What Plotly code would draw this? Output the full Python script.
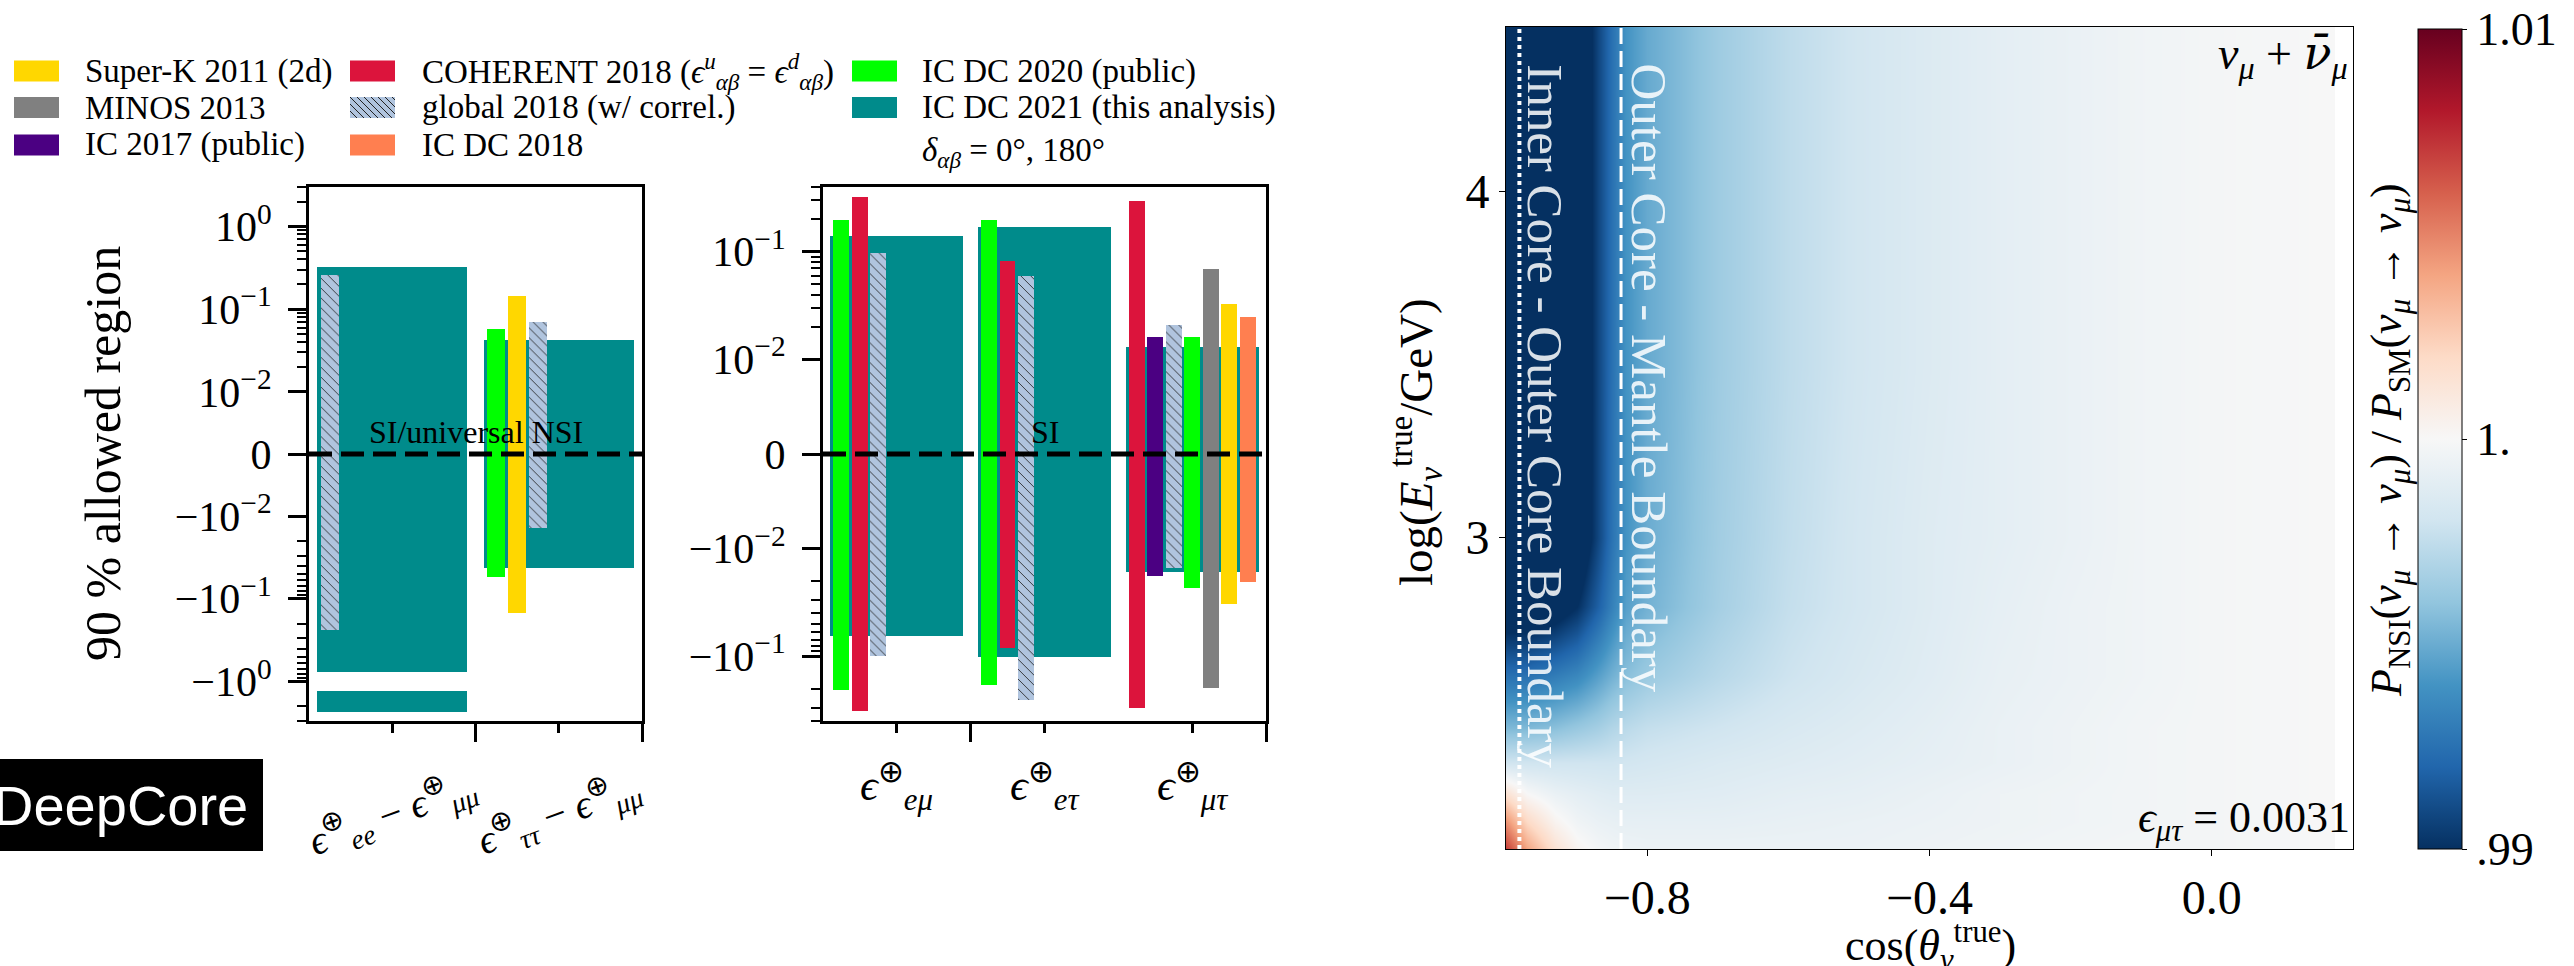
import numpy as np
import plotly.graph_objects as go

W, H = 2574, 966
def PX(px): return px / W
def PY(py): return 1 - py / H

# ---------------- data ----------------
cats_diag = ["ee-mumu", "tautau-mumu"]
cats_off = ["emu", "etau", "mutau"]

# panel 1 (diagonal), intervals (category index, lo, hi)
icdc2021_diag = [(0, -0.76, 0.32), (0, -2.32, -1.29), (1, -0.042, 0.042)]
global_diag = [(0, -0.24, 0.257), (1, -0.014, 0.071)]
icdc2020_diag = [(1, -0.055, 0.057)]
superk_diag = [(1, -0.15, 0.146)]

# panel 2 (off-diagonal)
icdc2021_off = [(0, -0.065, 0.141), (1, -0.102, 0.17), (2, -0.0166, 0.0129)]
icdc2020_off = [(0, -0.206, 0.198), (1, -0.185, 0.198), (2, -0.0234, 0.016)]
coherent_off = [(0, -0.323, 0.323), (1, -0.084, 0.082), (2, -0.30, 0.295)]
global_off = [(0, -0.10, 0.098), (1, -0.255, 0.06), (2, -0.015, 0.021)]
ic2017_off = [(2, -0.018, 0.0163)]
minos_off = [(2, -0.198, 0.0695)]
superk_off = [(2, -0.033, 0.033)]
icdc2018_off = [(2, -0.0202, 0.0245)]

# heatmap: read-off grid of P_NSI/P_SM
cos_grid = [-1.0, -0.97, -0.93, -0.9, -0.87, -0.85, -0.83, -0.8, -0.7, -0.6,
            -0.5, -0.4, -0.3, -0.2, -0.1, 0.0, 0.1, 0.15]
loge_grid = [2.1, 2.18, 2.26, 2.35, 2.45, 2.6, 2.8, 3.0, 3.5, 4.0, 4.48]
ratio = [
    [1.007, 1.004, 1.0015, 1.0003, 0.9998, 0.9996, 0.9995, 0.9994, 0.9994, 0.9994, 0.9994, 0.9995, 0.9996, 0.9997, 0.9998, 0.9998, 0.9999, 1.0],
    [1.0045, 1.002, 1.0003, 0.9996, 0.9993, 0.9992, 0.9991, 0.9991, 0.9991, 0.9992, 0.9993, 0.9994, 0.9995, 0.9996, 0.9997, 0.9998, 0.9999, 1.0],
    [1.0015, 1.0, 0.9993, 0.999, 0.9988, 0.9987, 0.9987, 0.9987, 0.9988, 0.999, 0.9991, 0.9993, 0.9995, 0.9996, 0.9997, 0.9998, 0.9999, 1.0],
    [0.998, 0.998, 0.998, 0.998, 0.998, 0.998, 0.9981, 0.9982, 0.9985, 0.9987, 0.9989, 0.9991, 0.9993, 0.9995, 0.9997, 0.9998, 0.9999, 1.0],
    [0.9955, 0.9955, 0.9958, 0.9962, 0.9966, 0.997, 0.9973, 0.9976, 0.998, 0.9984, 0.9987, 0.999, 0.9993, 0.9995, 0.9997, 0.9998, 0.9999, 1.0],
    [0.9925, 0.9925, 0.993, 0.9935, 0.9945, 0.9952, 0.9958, 0.9963, 0.9972, 0.9979, 0.9984, 0.9988, 0.9992, 0.9994, 0.9996, 0.9998, 0.9999, 1.0],
    [0.9885, 0.9885, 0.989, 0.99, 0.9918, 0.9932, 0.9945, 0.9952, 0.9966, 0.9976, 0.9982, 0.9987, 0.9991, 0.9994, 0.9996, 0.9998, 0.9999, 1.0],
    [0.986, 0.986, 0.9865, 0.9882, 0.9908, 0.9926, 0.994, 0.995, 0.9965, 0.9975, 0.9982, 0.9987, 0.999, 0.9993, 0.9996, 0.9998, 0.9999, 1.0],
    [0.985, 0.985, 0.986, 0.988, 0.9908, 0.9925, 0.994, 0.9949, 0.9964, 0.9974, 0.9981, 0.9986, 0.999, 0.9993, 0.9996, 0.9998, 0.9999, 1.0],
    [0.985, 0.985, 0.986, 0.988, 0.9908, 0.9925, 0.994, 0.9949, 0.9964, 0.9974, 0.9981, 0.9986, 0.999, 0.9993, 0.9996, 0.9998, 0.9999, 1.0],
    [0.985, 0.985, 0.986, 0.988, 0.9908, 0.9925, 0.994, 0.9949, 0.9964, 0.9974, 0.9981, 0.9986, 0.999, 0.9993, 0.9996, 0.9998, 0.9999, 1.0],
]
inner_core_cos = -0.981
outer_core_cos = -0.837
eps_mutau = 0.0031

COL = {
    "Super-K": "#FFD700", "MINOS": "#808080", "IC 2017": "#4B0082",
    "COHERENT": "#DC143C", "global": "#B0C4DE", "IC DC 2018": "#FF7F50",
    "IC DC 2020": "#00FF00", "IC DC 2021": "#008B8B",
}
RDBU_R = ["#053061", "#2166ac", "#4393c3", "#92c5de", "#d1e5f0", "#f7f7f7",
          "#fddbc7", "#f4a582", "#d6604d", "#b2182b", "#67001f"]

SERIF = "Liberation Serif"

# symlog transforms (decade units, linthresh 0.01)
A1, A2 = 0.75, 0.88
def symlog(v, a):
    v = np.asarray(v, dtype=float)
    out = np.where(np.abs(v) <= 0.01, v / 0.01 * a,
                   np.sign(v) * (a + np.log10(np.maximum(np.abs(v), 1e-12) / 0.01)))
    return out

BW = 0.108
STEP = 0.1255
def slot_center(cat, slot):
    return cat + 0.07 + BW / 2 + slot * STEP

fig = go.Figure()

def add_bars(items, a, xa, ya, color, wide=False, slots=None, hatch=False):
    xs, bases, hs, ws = [], [], [], []
    for k, (cat, lo, hi) in enumerate(items):
        t_lo, t_hi = float(symlog(lo, a)), float(symlog(hi, a))
        if wide:
            xs.append(cat + 0.5); ws.append(0.9)
        else:
            xs.append(slot_center(cat, slots[k])); ws.append(BW)
        bases.append(t_lo); hs.append(t_hi - t_lo)
    marker = dict(color=color, line=dict(width=0))
    if hatch:
        marker["pattern"] = dict(shape="\\", fgcolor="#222222", bgcolor=color,
                                 size=7, solidity=0.12, fillmode="replace")
    fig.add_trace(go.Bar(x=xs, y=hs, base=bases, width=ws, marker=marker,
                         xaxis=xa, yaxis=ya, showlegend=False, hoverinfo="skip"))

# panel 1
add_bars(icdc2021_diag, A1, "x", "y", COL["IC DC 2021"], wide=True)
add_bars(global_diag, A1, "x", "y", COL["global"], slots=[0, 2], hatch=True)
add_bars(icdc2020_diag, A1, "x", "y", COL["IC DC 2020"], slots=[0])
add_bars(superk_diag, A1, "x", "y", COL["Super-K"], slots=[1])
# panel 2
add_bars(icdc2021_off, A2, "x2", "y2", COL["IC DC 2021"], wide=True)
add_bars(icdc2020_off, A2, "x2", "y2", COL["IC DC 2020"], slots=[0, 0, 3])
add_bars(coherent_off, A2, "x2", "y2", COL["COHERENT"], slots=[1, 1, 0])
add_bars(global_off, A2, "x2", "y2", COL["global"], slots=[2, 2, 2], hatch=True)
add_bars(ic2017_off, A2, "x2", "y2", COL["IC 2017"], slots=[1])
add_bars(minos_off, A2, "x2", "y2", COL["MINOS"], slots=[4])
add_bars(superk_off, A2, "x2", "y2", COL["Super-K"], slots=[5])
add_bars(icdc2018_off, A2, "x2", "y2", COL["IC DC 2018"], slots=[6])

# heatmap
cscale = [[i / 10, c] for i, c in enumerate(RDBU_R)]
fig.add_trace(go.Heatmap(
    x=cos_grid, y=loge_grid, z=ratio, colorscale=cscale, zmin=0.99, zmax=1.01,
    zsmooth="best", xaxis="x3", yaxis="y3", hoverinfo="skip",
    colorbar=dict(x=PX(2418), xanchor="left", y=PY(439), yanchor="middle",
                  len=820 / H, lenmode="fraction", thickness=44, thicknessmode="pixels",
                  xpad=0, ypad=0, outlinewidth=1, outlinecolor="black",
                  tickvals=[0.99, 1.0, 1.01], ticktext=[".99", "1.", "1.01"],
                  ticks="outside", ticklen=5, tickwidth=1, tickcolor="black",
                  tickfont=dict(family=SERIF, size=46, color="black")),
))

# ---------------- axes ----------------
def major_minor(vmax, a):
    majors, labels = [], []
    for k in [-2, -1, 0]:
        v = 10.0 ** k
        if v <= vmax:
            for s in [1, -1]:
                majors.append(float(symlog(s * v, a)))
                e = "−" + str(-k) if k < 0 else str(k)
                labels.append(("" if s > 0 else "−") + "10<sup>" + e + "</sup>")
    majors.append(0.0); labels.append("0")
    minors = []
    for k in [-2, -1, 0]:
        for m in range(2, 10):
            v = m * 10.0 ** k
            if v <= vmax:
                minors += [float(symlog(v, a)), float(symlog(-v, a))]
    return majors, labels, minors

tick_font = dict(family=SERIF, size=42, color="black")
for (xa, ya, xdom, vmax, a, ncat, xmaj, xmin) in [
        ("xaxis", "yaxis", (309, 642), 3.0, A1, 2, [1, 2], [0.5, 1.5]),
        ("xaxis2", "yaxis2", (823, 1266), 0.4, A2, 3, [1, 3], [0.5, 1.5, 2.5])]:
    majors, labels, minors = major_minor(vmax, a)
    yr = float(symlog(vmax, a))
    yname = "y" if ya == "yaxis" else "y2"
    xname = "x" if xa == "xaxis" else "x2"
    fig.layout[xa] = dict(domain=[PX(xdom[0]), PX(xdom[1])], range=[0, ncat],
                          anchor=yname, showgrid=False, zeroline=False,
                          showline=True, linewidth=3, linecolor="black", mirror=True,
                          tickmode="array", tickvals=xmaj, ticks="outside", ticklen=18,
                          tickwidth=3, tickcolor="black", showticklabels=False,
                          minor=dict(tickmode="array", tickvals=xmin, ticks="outside",
                                     ticklen=9, tickwidth=3, tickcolor="black", showgrid=False))
    fig.layout[ya] = dict(domain=[PY(721), PY(187)], range=[-yr, yr], anchor=xname,
                          showgrid=False, zeroline=False, showline=True, linewidth=3,
                          linecolor="black", mirror=True, tickmode="array",
                          tickvals=majors, ticktext=labels, ticks="outside", ticklen=18,
                          tickwidth=3, tickcolor="black", tickfont=tick_font,
                          ticklabelstandoff=8,
                          minor=dict(tickmode="array", tickvals=minors, ticks="outside",
                                     ticklen=9, tickwidth=2, tickcolor="black", showgrid=False))

hm_font = dict(family=SERIF, size=48, color="black")
fig.layout["xaxis3"] = dict(domain=[PX(1506), PX(2353)], range=[-1.0, 0.2], anchor="y3",
                            showgrid=False, zeroline=False, showline=True, linewidth=1,
                            linecolor="black", mirror=True, tickmode="array",
                            tickvals=[-0.8, -0.4, 0.0], ticktext=["−0.8", "−0.4", "0.0"],
                            ticks="outside", ticklen=6, tickwidth=1, tickcolor="black",
                            tickfont=hm_font)
fig.layout["yaxis3"] = dict(domain=[PY(849), PY(26.5)], range=[2.1, 4.477], anchor="x3",
                            showgrid=False, zeroline=False, showline=True, linewidth=1,
                            linecolor="black", mirror=True, tickmode="array",
                            tickvals=[3, 4], ticktext=["3", "4"], ticks="outside",
                            ticklen=6, tickwidth=1, tickcolor="black", tickfont=hm_font)

shapes, annos = [], []

# zero lines
for xr, yr_ in [("x domain", "y"), ("x2 domain", "y2")]:
    shapes.append(dict(type="line", xref=xr, yref=yr_, x0=0, x1=1, y0=0, y1=0,
                       line=dict(color="black", width=5, dash="23px,9px"), layer="above"))
annos.append(dict(xref="x", yref="y", x=1.0, y=0, yanchor="bottom", yshift=2,
                  text="SI/universal NSI", showarrow=False,
                  font=dict(family=SERIF, size=32, color="black")))
annos.append(dict(xref="x2", yref="y2", x=1.5, y=0, yanchor="bottom", yshift=2,
                  text="SI", showarrow=False, font=dict(family=SERIF, size=32, color="black")))

# category labels
EPS = "<i>ϵ</i>"
p1_labels = [EPS + "<sup>⊕</sup><sub><i>ee</i></sub> − " + EPS + "<sup>⊕</sup><sub><i>μμ</i></sub>",
             EPS + "<sup>⊕</sup><sub><i>ττ</i></sub> − " + EPS + "<sup>⊕</sup><sub><i>μμ</i></sub>"]
for i, t in enumerate(p1_labels):
    annos.append(dict(xref="x", yref="paper", x=i + 0.5, y=PY(813), text=t, textangle=-20,
                      showarrow=False, xanchor="center", yanchor="middle",
                      font=dict(family=SERIF, size=40, color="black")))
p2_labels = [EPS + "<sup>⊕</sup><sub><i>eμ</i></sub>", EPS + "<sup>⊕</sup><sub><i>eτ</i></sub>",
             EPS + "<sup>⊕</sup><sub><i>μτ</i></sub>"]
for i, t in enumerate(p2_labels):
    annos.append(dict(xref="x2", yref="paper", x=i + 0.5, y=PY(786), text=t,
                      showarrow=False, xanchor="center", yanchor="middle",
                      font=dict(family=SERIF, size=44, color="black")))

annos.append(dict(xref="paper", yref="paper", x=PX(103), y=PY(454), text="90 % allowed region",
                  textangle=-90, showarrow=False, xanchor="center", yanchor="middle",
                  font=dict(family=SERIF, size=50, color="black")))

# DeepCore logo
shapes.append(dict(type="rect", xref="paper", yref="paper", x0=PX(0), x1=PX(263),
                   y0=PY(851), y1=PY(759), fillcolor="black", line=dict(width=0)))
annos.append(dict(xref="paper", yref="paper", x=PX(250), y=PY(805), text="DeepCore",
                  showarrow=False, xanchor="right", yanchor="middle",
                  font=dict(family="Liberation Sans", size=56, color="white")))

# legend (manual, 3 columns)
legend_items = [
    ("Super-K 2011 (2d)", "Super-K", 0, 0), ("MINOS 2013", "MINOS", 0, 1),
    ("IC 2017 (public)", "IC 2017", 0, 2),
    ("COHERENT 2018 (" + EPS + "<sup><i>u</i></sup><sub><i>αβ</i></sub> = " + EPS +
     "<sup><i>d</i></sup><sub><i>αβ</i></sub>)", "COHERENT", 1, 0),
    ("global 2018 (w/ correl.)", "global", 1, 1), ("IC DC 2018", "IC DC 2018", 1, 2),
    ("IC DC 2020 (public)", "IC DC 2020", 2, 0),
    ("IC DC 2021 (this analysis)", "IC DC 2021", 2, 1),
]
patch_x = [14, 350, 852]
text_x = [83, 420, 920]
row_y = [71, 107.5, 145]
leg_font = dict(family=SERIF, size=33, color="black")
PW, PH = 45, 21
for label, key, c, r in legend_items:
    x0, y0 = patch_x[c], row_y[r] - PH / 2
    shapes.append(dict(type="rect", xref="paper", yref="paper", x0=PX(x0), x1=PX(x0 + PW),
                       y0=PY(y0 + PH), y1=PY(y0), fillcolor=COL[key], line=dict(width=0)))
    if key == "global":
        for cc in np.arange(-PH, PW, 7.0):
            t0, t1 = max(0.0, -cc), min(float(PH), PW - cc)
            if t1 > t0:
                shapes.append(dict(type="line", xref="paper", yref="paper",
                                   x0=PX(x0 + cc + t0), y0=PY(y0 + t0),
                                   x1=PX(x0 + cc + t1), y1=PY(y0 + t1),
                                   line=dict(color="#222222", width=1)))
    annos.append(dict(xref="paper", yref="paper", x=PX(text_x[c]), y=PY(row_y[r]), text=label,
                      showarrow=False, xanchor="left", yanchor="middle", font=leg_font))
annos.append(dict(xref="paper", yref="paper", x=PX(text_x[2]), y=PY(152),
                  text="<i>δ</i><sub><i>αβ</i></sub> = 0°, 180°", showarrow=False,
                  xanchor="left", yanchor="middle", font=leg_font))

# heatmap decorations
shapes.append(dict(type="line", xref="x3", yref="y3 domain", x0=inner_core_cos, x1=inner_core_cos,
                   y0=0, y1=1, line=dict(color="white", width=4, dash="dot")))
shapes.append(dict(type="line", xref="x3", yref="y3 domain", x0=outer_core_cos, x1=outer_core_cos,
                   y0=0, y1=1, line=dict(color="white", width=3, dash="16px,7px")))
bfont = dict(family=SERIF, size=51, color="rgba(255,255,255,0.85)")
annos.append(dict(xref="x3", yref="paper", x=-0.945, y=PY(62), text="Inner Core - Outer Core Boundary",
                  textangle=90, showarrow=False, xanchor="center", yanchor="top", font=bfont))
annos.append(dict(xref="x3", yref="paper", x=-0.796, y=PY(62), text="Outer Core - Mantle Boundary",
                  textangle=90, showarrow=False, xanchor="center", yanchor="top", font=bfont))
annos.append(dict(xref="paper", yref="paper", x=PX(2350), y=PY(56),
                  text="<i>ν</i><sub><i>μ</i></sub> + <span style='font-family:DejaVu Serif'><i>ν̄</i></span><sub><i>μ</i></sub>",
                  showarrow=False, xanchor="right", yanchor="middle",
                  font=dict(family=SERIF, size=46, color="black")))
annos.append(dict(xref="paper", yref="paper", x=PX(2352), y=PY(820),
                  text=EPS + "<sub><i>μτ</i></sub> = " + str(eps_mutau),
                  showarrow=False, xanchor="right", yanchor="middle",
                  font=dict(family=SERIF, size=44, color="black")))
annos.append(dict(xref="paper", yref="paper", x=PX(1930), y=PY(946),
                  text="cos(<i>θ</i><sub><i>ν</i></sub><sup>true</sup>)", showarrow=False,
                  xanchor="center", yanchor="middle", font=dict(family=SERIF, size=44, color="black")))
annos.append(dict(xref="paper", yref="paper", x=PX(1416), y=PY(442),
                  text="log(<i>E</i><sub><i>ν</i></sub><sup>true</sup>/GeV)", textangle=-90,
                  showarrow=False, xanchor="center", yanchor="middle",
                  font=dict(family=SERIF, size=47, color="black")))
annos.append(dict(xref="paper", yref="paper", x=PX(2389), y=PY(440),
                  text="<i>P</i><sub>NSI</sub>(<i>ν</i><sub><i>μ</i></sub> → <i>ν</i><sub><i>μ</i></sub>) / "
                       "<i>P</i><sub>SM</sub>(<i>ν</i><sub><i>μ</i></sub> → <i>ν</i><sub><i>μ</i></sub>)",
                  textangle=-90, showarrow=False, xanchor="center", yanchor="middle",
                  font=dict(family=SERIF, size=44, color="black")))

fig.update_layout(width=W, height=H, autosize=False, margin=dict(l=0, r=0, t=0, b=0),
                  paper_bgcolor="white", plot_bgcolor="white", barmode="overlay",
                  bargap=0, shapes=shapes, annotations=annos, showlegend=False,
                  font=dict(family=SERIF, color="black"))
fig.write_html("out.html")
